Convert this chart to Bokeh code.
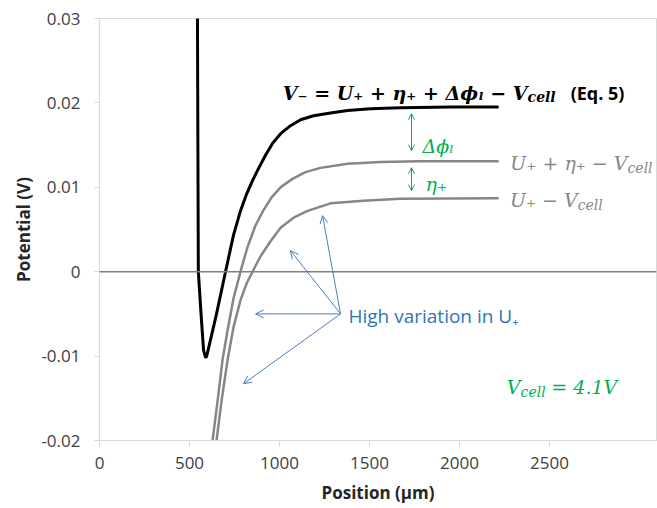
from bokeh.plotting import figure
from bokeh.models import (Range1d, FixedTicker, Label, Arrow, OpenHead, Span)
from bokeh.embed import file_html
from bokeh.resources import INLINE

# ---------------- data ----------------
black_x = [544, 547, 549, 564, 578, 588, 594, 602, 650, 700, 744, 783, 817,
           850, 878, 922, 961, 1006, 1061, 1117, 1189, 1283, 1378, 1506, 1672,
           1950, 2217]
black_y = [0.031, 0.012, 0.0, -0.0050, -0.0093, -0.0101, -0.0101, -0.0094,
           -0.0050, 0.0, 0.0043, 0.0072, 0.0092, 0.0108, 0.0120,
           0.0138, 0.0152, 0.01635, 0.0173, 0.0180, 0.01848, 0.0188, 0.0191,
           0.0193, 0.01943, 0.0195, 0.0195]

gray1_x = [628, 656, 683, 711, 744, 783, 822, 867, 911, 956, 1006, 1072, 1144,
           1228, 1378, 1561, 1783, 2217]
gray1_y = [-0.0200, -0.0153, -0.0105, -0.0070, -0.0032, 0.0, 0.0029, 0.0055,
           0.0073, 0.0088, 0.0100, 0.0110, 0.0118, 0.0123, 0.0128, 0.0130,
           0.0131, 0.0131]

gray2_x = [650, 678, 711, 744, 783, 817, 850, 894, 950, 1006, 1078, 1156, 1283,
           1467, 1672, 2217]
gray2_y = [-0.0200, -0.0153, -0.0105, -0.0066, -0.0034, -0.0014, 0.0, 0.0018,
           0.0036, 0.0052, 0.0064, 0.0072, 0.0081, 0.0084, 0.00865, 0.0087]

x_ticks = [0, 500, 1000, 1500, 2000, 2500]
y_ticks = [-0.02, -0.01, 0.0, 0.01, 0.02, 0.03]
y_tick_labels = ["-0.02", "-0.01", "0", "0.01", "0.02", "0.03"]

x_title = "Position (μm)"
y_title = "Potential (V)"

# ---------------- styles ----------------
SANS = "Open Sans"
MATH = "DejaVu Serif"
GREEN = "#00B050"
BLUE_T = "#2E75B6"
BLUE_A = "#4A7EBB"
GRAY = "#868686"

p = figure(width=657, height=508, x_range=Range1d(0, 3094),
           y_range=Range1d(-0.02, 0.03), output_backend="svg",
           toolbar_location=None, min_border_left=99, min_border_right=1,
           min_border_top=18, min_border_bottom=68)
p.title.visible = False
p.background_fill_color = "white"
p.border_fill_color = "white"
p.outline_line_color = "#d9d9d9"
p.outline_line_width = 1
p.xgrid.visible = False
p.ygrid.visible = False

for ax in (p.xaxis, p.yaxis):
    ax.axis_line_color = "#d9d9d9"
    ax.major_tick_line_color = "#d9d9d9"
    ax.minor_tick_line_color = None
    ax.major_tick_in = 0
    ax.major_label_text_font = SANS
    ax.major_label_text_font_size = "17px"
    ax.major_label_text_color = "#404040"
    ax.axis_label_text_font = SANS
    ax.axis_label_text_font_size = "17px"
    ax.axis_label_text_font_style = "bold"
    ax.axis_label_text_color = "#262626"

p.xaxis.ticker = FixedTicker(ticks=x_ticks)
p.xaxis.major_tick_out = 6
p.xaxis.major_label_standoff = 10
p.xaxis.axis_label = x_title
p.xaxis.axis_label_standoff = 9

p.yaxis.ticker = FixedTicker(ticks=y_ticks)
p.yaxis.major_label_overrides = {t: s for t, s in zip(y_ticks, y_tick_labels)}
p.yaxis.major_tick_out = 5
p.yaxis.major_label_standoff = 14
p.yaxis.axis_label = y_title
p.yaxis.axis_label_standoff = 3

# zero line
p.add_layout(Span(location=0, dimension="width", line_color="#808080",
                  line_width=1.5))

# curves
p.line(gray2_x, gray2_y, line_color=GRAY, line_width=2.5, line_join="round")
p.line(gray1_x, gray1_y, line_color=GRAY, line_width=2.5, line_join="round")
p.line(black_x, black_y, line_color="black", line_width=3, line_join="round")


def lab(x, y, text, size, color, font=MATH, style="italic", align="left",
        baseline="alphabetic"):
    p.add_layout(Label(x=x, y=y, text=text, text_font=font,
                       text_font_size=size, text_color=color,
                       text_font_style=style, text_align=align,
                       text_baseline=baseline))


# equation (black)
lab(2378, 0.02123, "V₋ = U₊ + η₊ + Δϕₗ − V", "19px", "black",
    style="bold italic", align="right")
lab(2378, 0.02064, "cell", "14px", "black", style="bold italic")
lab(2617, 0.02123, "(Eq. 5)", "18px", "black", font=SANS, style="bold")

# gray labels
lab(2933, 0.01282, "U₊ + η₊ − V", "19px", GRAY, align="right")
lab(2933, 0.01223, "cell", "14px", GRAY)
lab(2656, 0.00844, "U₊ − V", "19px", GRAY, align="right")
lab(2656, 0.00785, "cell", "14px", GRAY)

# green labels
lab(1794, 0.01495, "Δϕₗ", "19px", GREEN)
lab(1811, 0.01045, "η₊", "19px", GREEN)
lab(2339, -0.01372, "V", "19px", GREEN, align="right")
lab(2339, -0.01431, "cell", "14px", GREEN)
lab(2510, -0.01372, "= 4.1V", "19px", GREEN)

# green double arrows
for ys, ye in [(0.01872, 0.01434), (0.01232, 0.0096)]:
    p.add_layout(Arrow(x_start=1733, y_start=ys, x_end=1733, y_end=ye,
                       line_color=GREEN, line_width=1,
                       start=OpenHead(size=6, line_color=GREEN, line_width=1),
                       end=OpenHead(size=6, line_color=GREEN, line_width=1)))

# blue annotation
lab(1383, -0.0052, "High variation in U₊", "19px", BLUE_T, font=SANS,
    style="normal", baseline="middle")
origin = (1339, -0.0050)
tips = [(1239, 0.00664), (1061, 0.00249), (867, -0.0050), (800, -0.01327)]
for tx, ty in tips:
    p.add_layout(Arrow(x_start=origin[0], y_start=origin[1], x_end=tx, y_end=ty,
                       line_color=BLUE_A, line_width=1,
                       end=OpenHead(size=8, line_color=BLUE_A, line_width=1)))

open("out.html", "w").write(file_html(p, INLINE))
